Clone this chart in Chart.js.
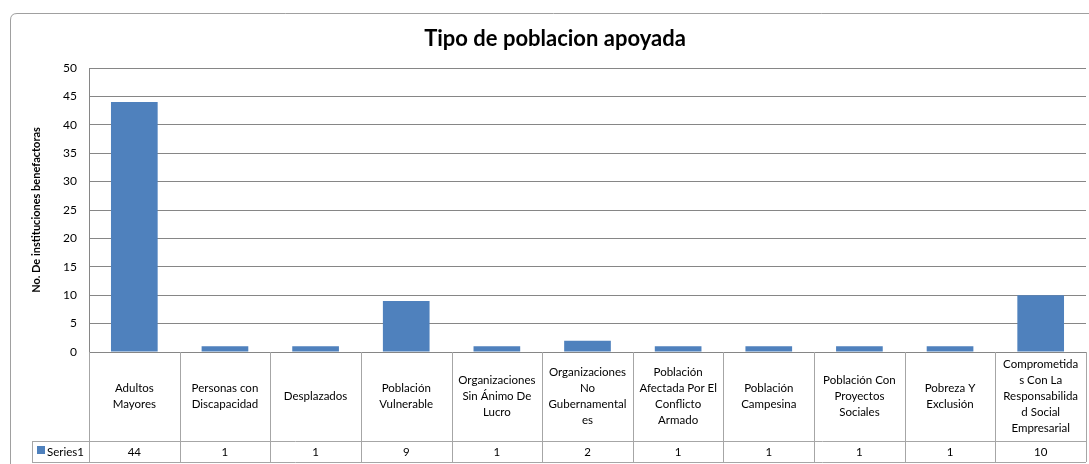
<!DOCTYPE html>
<html>
<head>
<meta charset="utf-8">
<script src="https://cdn.jsdelivr.net/npm/chart.js@4"></script>
<style>
  body { margin: 0; background: #fff; }
  canvas { display: block; }
</style>
</head>
<body>
<canvas id="grafico" width="1089" height="464"></canvas>
<script>
// Datos
const categorias = [
    ['Adultos', 'Mayores'],
    ['Personas con', 'Discapacidad'],
    ['Desplazados'],
    ['Población', 'Vulnerable'],
    ['Organizaciones', 'Sin Ánimo De', 'Lucro'],
    ['Organizaciones', 'No', 'Gubernamental', 'es'],
    ['Población', 'Afectada Por El', 'Conflicto', 'Armado'],
    ['Población', 'Campesina'],
    ['Población Con', 'Proyectos', 'Sociales'],
    ['Pobreza Y', 'Exclusión'],
    ['Comprometida', 's Con La', 'Responsabilida', 'd Social', 'Empresarial']
];
const series1 = [44, 1, 1, 9, 1, 2, 1, 1, 1, 1, 10];
const nombreSerie = 'Series1';
const titulo = 'Tipo de poblacion apoyada';
const tituloEjeY = 'No. De instituciones benefactoras';
const ticksY = [0, 5, 10, 15, 20, 25, 30, 35, 40, 45, 50];

const AZUL = '#4f81bd';
const FUENTE = 'Lato, "Open Sans", sans-serif';

// Marco, título y tabla de datos dibujados sobre el canvas
const tablaPlugin = {
    id: 'tablaDatos',
    beforeDraw(chart) {
        const ctx = chart.ctx;
        ctx.save();
        ctx.fillStyle = '#fff';
        ctx.fillRect(0, 0, chart.width, chart.height);
        // borde exterior redondeado
        ctx.strokeStyle = '#a0a0a0';
        ctx.lineWidth = 1;
        ctx.beginPath();
        ctx.moveTo(10.5, chart.height + 5);
        ctx.lineTo(10.5, 20);
        ctx.quadraticCurveTo(10.5, 13.5, 17, 13.5);
        ctx.lineTo(chart.width + 5, 13.5);
        ctx.stroke();
        ctx.restore();
    },
    afterDraw(chart) {
        const { ctx, chartArea } = chart;
        const x = chart.scales.x;
        const paso = x.width / categorias.length;
        const arriba = chartArea.bottom;
        const filaValores = arriba + 89;
        const abajo = filaValores + 21;
        const izqLeyenda = 32;

        ctx.save();
        // título
        ctx.fillStyle = '#000';
        ctx.font = 'bold 22px ' + FUENTE;
        ctx.textAlign = 'center';
        ctx.textBaseline = 'middle';
        ctx.fillText(titulo, 555, 39);

        // líneas de la tabla
        ctx.strokeStyle = '#a6a6a6';
        ctx.lineWidth = 1;
        ctx.beginPath();
        for (let i = 0; i <= categorias.length; i++) {
            const xi = Math.round(x.getPixelForValue(i) - paso / 2) + 0.5;
            ctx.moveTo(xi, arriba);
            ctx.lineTo(xi, abajo);
        }
        ctx.moveTo(izqLeyenda + 0.5, filaValores);
        ctx.lineTo(izqLeyenda + 0.5, abajo);
        ctx.moveTo(izqLeyenda, filaValores + 0.5);
        ctx.lineTo(chartArea.right, filaValores + 0.5);
        ctx.moveTo(izqLeyenda, abajo + 0.5);
        ctx.lineTo(chartArea.right, abajo + 0.5);
        ctx.stroke();

        // etiquetas de categoría
        ctx.fillStyle = '#000';
        ctx.font = '11.5px ' + FUENTE;
        ctx.textAlign = 'center';
        ctx.textBaseline = 'middle';
        const altoLinea = 16;
        const centroFila = (arriba + filaValores) / 2;
        categorias.forEach((lineas, i) => {
            const cx = x.getPixelForValue(i);
            const y0 = centroFila - (lineas.length - 1) * altoLinea / 2;
            lineas.forEach((t, j) => ctx.fillText(t, cx, y0 + j * altoLinea));
        });

        // fila de valores
        const yValores = (filaValores + abajo) / 2 + 1;
        series1.forEach((v, i) => {
            ctx.fillText(String(v), x.getPixelForValue(i), yValores);
        });

        // clave de leyenda
        ctx.fillStyle = AZUL;
        ctx.fillRect(37, filaValores + 5, 8, 8);
        ctx.fillStyle = '#000';
        ctx.textAlign = 'left';
        ctx.fillText(nombreSerie, 47, yValores);
        ctx.restore();
    }
};

const grafico = new Chart(document.getElementById('grafico'), {
    type: 'bar',
    data: {
        labels: categorias,
        datasets: [{
            label: nombreSerie,
            data: series1,
            backgroundColor: AZUL,
            borderWidth: 0,
            barPercentage: 0.515,
            categoryPercentage: 1
        }]
    },
    options: {
        responsive: false,
        animation: false,
        devicePixelRatio: 1,
        layout: {
            padding: { left: 0, top: 68, right: 3, bottom: 112 }
        },
        plugins: {
            legend: { display: false },
            tooltip: { enabled: false },
            title: { display: false }
        },
        scales: {
            x: {
                display: false
            },
            y: {
                min: 0,
                max: 50,
                afterFit(scale) {
                    scale.width = 89;
                },
                afterBuildTicks(scale) {
                    scale.ticks = ticksY.map(v => ({ value: v }));
                },
                ticks: {
                    padding: 12,
                    color: '#000',
                    font: { family: FUENTE, size: 12 }
                },
                grid: {
                    color: '#868686',
                    drawTicks: false
                },
                border: {
                    color: '#868686'
                },
                title: {
                    display: true,
                    text: tituloEjeY,
                    color: '#000',
                    font: { family: FUENTE, size: 11, weight: 'bold' },
                    padding: { top: 30, bottom: 0 }
                }
            }
        }
    },
    plugins: [tablaPlugin]
});
</script>
</body>
</html>
